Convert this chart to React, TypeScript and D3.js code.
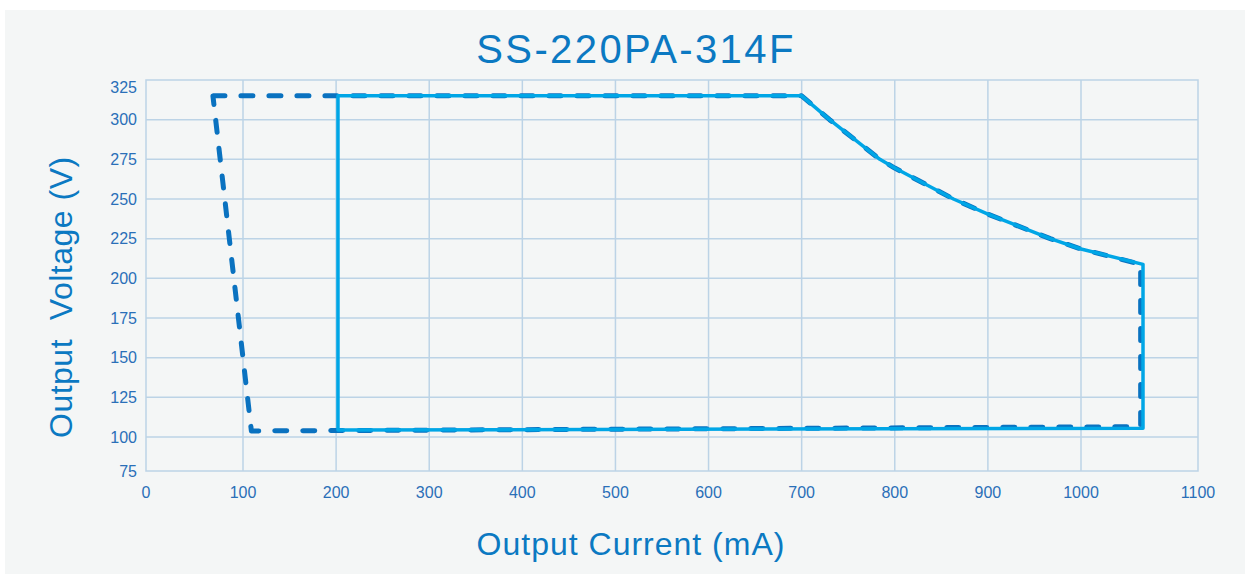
import React, { useEffect, useRef } from 'react'
import * as d3 from 'd3'

const chartTitle = 'SS-220PA-314F'
const xTitle = 'Output Current (mA)'
const yTitle = 'Output  Voltage (V)'

const xTicks = [0, 100, 200, 300, 400, 500, 600, 700, 800, 900, 1000, 1100]
const yTicks = [75, 100, 125, 150, 175, 200, 225, 250, 275, 300, 325]
const yGrid = [100, 125, 150, 175, 200, 225, 250, 275, 300]

// solid boundary (mA, V)
const solidCurrent = [202, 700, 730, 784, 800, 863, 900, 967, 1000, 1053, 1053, 202]
const solidVoltage = [315, 315, 300, 275, 269.5, 250, 240.5, 225, 218.5, 208.8, 105.5, 104.4]

// dashed boundary (mA, V)
const dashedCurrent = [69, 700, 730, 784, 800, 863, 900, 967, 1000, 1051, 1051, 109]
const dashedVoltage = [315, 315, 300, 275, 269.5, 250, 240.5, 225, 218.5, 208.8, 106.5, 103.8]

const W = 1245
const H = 574

export default function App() {
    const svgRef = useRef<SVGSVGElement>(null)

    useEffect(() => {
        const svg = d3.select(svgRef.current)
        svg.selectAll('*').remove()

        const left = 146, right = 1198, top = 80, bottom = 471
        // the printed grid isn't evenly spaced, so use a piecewise scale
        const x = d3.scaleLinear()
            .domain([0, 100, 1000, 1100])
            .range([left, 243, 1081, right])
        const y = d3.scaleLinear()
            .domain([75, 100, 325])
            .range([bottom, 437, top])

        svg.append('rect')
            .attr('x', 5).attr('y', 10)
            .attr('width', W - 5).attr('height', H - 10)
            .attr('fill', '#f4f6f6')

        const grid = svg.append('g')
            .attr('stroke', '#bcd3e6')
            .attr('stroke-width', 1.5)
            .attr('fill', 'none')
        grid.selectAll('line.v')
            .data(xTicks.slice(1, -1))
            .enter().append('line')
            .attr('class', 'v')
            .attr('x1', d => x(d)).attr('x2', d => x(d))
            .attr('y1', top).attr('y2', bottom)
        grid.selectAll('line.h')
            .data(yGrid)
            .enter().append('line')
            .attr('class', 'h')
            .attr('x1', left).attr('x2', right)
            .attr('y1', d => y(d)).attr('y2', d => y(d))
        grid.append('rect')
            .attr('x', left).attr('y', top)
            .attr('width', right - left).attr('height', bottom - top)

        const font = '"Liberation Sans", Arial, sans-serif'
        svg.append('g').selectAll('text')
            .data(yTicks)
            .enter().append('text')
            .attr('x', 137)
            .attr('y', d => Math.max(y(d), top + 7))
            .attr('dy', '0.35em')
            .attr('text-anchor', 'end')
            .attr('font-size', 16)
            .attr('font-family', font)
            .attr('fill', '#2a6fb8')
            .text(d => d)

        svg.append('g').selectAll('text')
            .data(xTicks)
            .enter().append('text')
            .attr('x', d => x(d))
            .attr('y', 498)
            .attr('text-anchor', 'middle')
            .attr('font-size', 16)
            .attr('font-family', font)
            .attr('fill', '#2a6fb8')
            .text(d => d)

        const line = d3.line<number>()
            .x(i => x(dashedCurrent[i]))
            .y(i => y(dashedVoltage[i]))
        svg.append('path')
            .attr('d', line(d3.range(dashedCurrent.length)) + 'Z')
            .attr('fill', 'none')
            .attr('stroke', '#0a72c0')
            .attr('stroke-width', 5)
            .attr('stroke-linecap', 'round')
            .attr('stroke-linejoin', 'round')
            .attr('stroke-dasharray', '12 16')

        const solidLine = d3.line<number>()
            .x(i => x(solidCurrent[i]))
            .y(i => y(solidVoltage[i]))
        svg.append('path')
            .attr('d', solidLine(d3.range(solidCurrent.length)) + 'Z')
            .attr('fill', 'none')
            .attr('stroke', '#00a6e6')
            .attr('stroke-width', 3.5)
            .attr('stroke-linejoin', 'round')

        svg.append('text')
            .attr('x', 636).attr('y', 63)
            .attr('text-anchor', 'middle')
            .attr('font-size', 40)
            .attr('letter-spacing', 2.4)
            .attr('font-family', font)
            .attr('fill', '#0b79c2')
            .text(chartTitle)

        svg.append('text')
            .attr('x', 631).attr('y', 555)
            .attr('text-anchor', 'middle')
            .attr('font-size', 32)
            .attr('letter-spacing', 1)
            .attr('font-family', font)
            .attr('fill', '#0b79c2')
            .text(xTitle)

        svg.append('text')
            .attr('transform', 'translate(72,438) rotate(-90)')
            .attr('text-anchor', 'start')
            .attr('font-size', 32)
            .attr('letter-spacing', 0.5)
            .style('white-space', 'pre')
            .attr('font-family', font)
            .attr('fill', '#0b79c2')
            .text(yTitle)
    }, [])

    return (
        <svg
            ref={svgRef}
            width={W}
            height={H}
            style={{ position: 'absolute', left: 0, top: 0, background: '#ffffff' }}
        />
    )
}
